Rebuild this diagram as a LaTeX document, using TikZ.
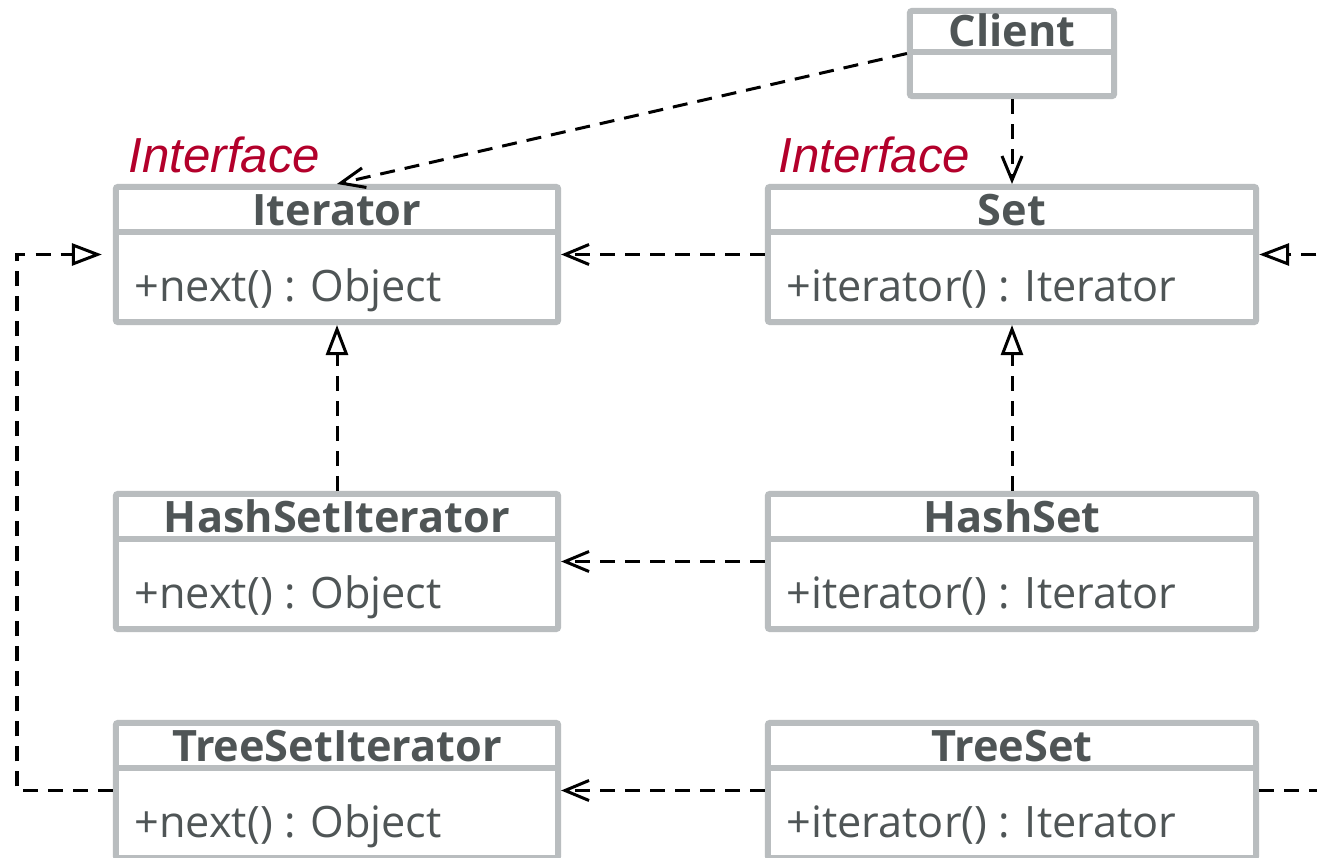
\documentclass[tikz,border=0pt]{standalone}
\usepackage{fontspec}
\setmainfont{Open Sans}
\newfontfamily\etiquetafont{Liberation Sans}
\usetikzlibrary{arrows.meta,calc}

% Colores del diagrama
\definecolor{borde}{HTML}{B9BDBF}
\definecolor{texto}{HTML}{4F5556}
\definecolor{rojo}{HTML}{B3002B}

\tikzset{
  clase/.style={draw=borde, line width=0.06cm, rounded corners=0.02cm,
    minimum height=1.35cm, inner sep=0pt},
  divisor/.style={draw=borde, line width=0.06cm},
  titulo/.style={text=texto, inner sep=0pt, font=\fontsize{12.3pt}{14pt}\selectfont\bfseries},
  metodo/.style={text=texto, inner sep=0pt, font=\fontsize{12.3pt}{14pt}\selectfont},
  interfaz/.style={text=rojo, inner sep=0pt, font=\etiquetafont\itshape\fontsize{14pt}{16pt}\selectfont},
  linea/.style={draw, black, line width=0.03cm, dash pattern=on 0.15cm off 0.1cm},
  usa/.style={linea, -{Straight Barb[length=0.24cm, width=0.2cm]}},
  realiza/.style={linea, -{Triangle[open, length=0.3cm, width=0.22cm]}}
}

% Caja de clase: nombre, centro, ancho, titulo, metodo
\newcommand{\claseuml}[5]{%
  \node[clase, minimum width=#3] (#1) at (#2) {};
  \node[titulo, anchor=base] (#1-titulo) at ($(#1.north)+(0,42)$) {#4};
  \draw[divisor] ($(#1.north west)+(0,48)$) -- ($(#1.north east)+(0,48)$);
  \node[metodo, anchor=base west] (#1-metodo) at ($(#1.north west)+(21,118)$) {#5};
}

\begin{document}
\begin{tikzpicture}[x=0.01cm, y=-0.01cm]

        % Area del dibujo (en pixeles de la imagen)
        \useasboundingbox (0,0) rectangle (1317,858);
        \fill[white] (0,0) rectangle (1317,858);
        \clip (0,0) rectangle (1317,858);

        % Clase Client (sin metodos)
        \node[clase, minimum width=2.04cm, minimum height=0.85cm] (cliente) at (1012,53.5) {};
        \node[titulo, anchor=base] (cliente-titulo) at ($(cliente.north)+(0,39)$) {Client};
        \draw[divisor] ($(cliente.north west)+(0,44)$) -- ($(cliente.north east)+(0,44)$);

        % Interfaces
        \claseuml{iterador}{337,254.5}{4.42cm}{Iterator}{+next() : Object}
        \claseuml{conjunto}{1012,254.5}{4.88cm}{Set}{+iterator() : Iterator}

        % Estereotipos de las interfaces
        \node[interfaz, anchor=base west] (iterador-tipo) at ($(iterador.north west)+(15,-11)$) {Interface};
        \node[interfaz, anchor=base west] (conjunto-tipo) at ($(conjunto.north west)+(13,-11)$) {Interface};

        % Implementaciones con HashSet
        \claseuml{hash-iter}{337,561.5}{4.42cm}{HashSetIterator}{+next() : Object}
        \claseuml{hash}{1012,561.5}{4.88cm}{HashSet}{+iterator() : Iterator}

        % Implementaciones con TreeSet (cortadas por abajo)
        \claseuml{arbol-iter}{337,790.5}{4.42cm}{TreeSetIterator}{+next() : Object}
        \claseuml{arbol}{1012,790.5}{4.88cm}{TreeSet}{+iterator() : Iterator}

        % Dependencias del cliente
        \draw[usa] (cliente.west) -- (iterador.north);
        \draw[usa] (cliente.south) -- (conjunto.north);

        % Cada coleccion crea su iterador
        \draw[usa] (conjunto.west) -- (iterador.east);
        \draw[usa] (hash.west) -- (hash-iter.east);
        \draw[usa] (arbol.west) -- (arbol-iter.east);

        % Realizaciones de las interfaces
        \draw[realiza] (hash-iter.north) -- (iterador.south);
        \draw[realiza] (hash.north) -- (conjunto.south);

        % Realizaciones de TreeSet por los lados (la derecha sale de la imagen)
        \coordinate (codo-izq) at (17,520);
        \coordinate (codo-der) at (1345,520);
        \draw[realiza, shorten >=0.11cm] (arbol-iter.west) -| (codo-izq) |- (iterador.west);
        \draw[realiza] (arbol.east) -| (codo-der) |- (conjunto.east);

    \end{tikzpicture}
\end{document}
